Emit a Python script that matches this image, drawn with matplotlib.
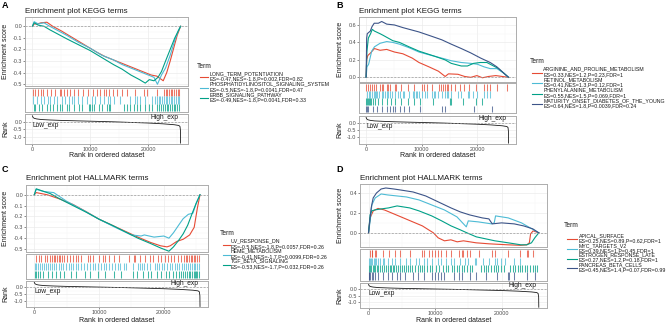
import matplotlib
matplotlib.use('Agg')
import matplotlib.pyplot as plt
from matplotlib.lines import Line2D
from matplotlib.ticker import MultipleLocator, FormatStrFormatter

plt.rcParams['font.family'] = ['Liberation Sans', 'DejaVu Sans']
plt.rcParams['axes.unicode_minus'] = False

W, H = 668, 328
NPG = ['#E64B35', '#4DBBD5', '#00A087', '#3C5488']
N_GENES = 25600

# ranked list metric (same dataset in every panel)
rank_x = [0, 100, 300, 700, 1500, 3000, 5000, 8000, 11000, 14000, 17000, 20000, 22500, 24500, 25300, 25500, 25580, 25600]
rank_y = [0.38, 0.28, 0.22, 0.18, 0.14, 0.11, 0.08, 0.05, 0.02, -0.01, -0.05, -0.09, -0.14, -0.20, -0.25, -0.32, -0.6, -1.4]
rank_ticks = [0.0, -0.5, -1.0]

# ---- A: KEGG, negative ----
a_terms = ['LONG_TERM_POTENTIATION', 'PHOSPHATIDYLINOSITOL_SIGNALING_SYSTEM', 'ERBB_SIGNALING_PATHWAY']
a_stats = ['ES=-0.47,NES=-1.8,P=0.002,FDR=0.82', 'ES=-0.5,NES=-1.8,P=0.0041,FDR=0.47', 'ES=-0.49,NES=-1.8,P=0.0041,FDR=0.33']
a_ltp_x = [0, 300, 800, 1500, 2500, 3500, 5000, 7000, 9000, 11000, 12500, 14000, 15500, 17000, 18500, 19500, 20500, 21500, 22600, 23200, 23800, 24400, 25000, 25600]
a_ltp_y = [0.0, 0.02, 0.02, 0.03, 0.035, 0.0, -0.04, -0.10, -0.16, -0.22, -0.26, -0.29, -0.32, -0.35, -0.38, -0.40, -0.42, -0.43, -0.47, -0.40, -0.30, -0.19, -0.08, 0.0]
a_pis_x = [0, 300, 1000, 2000, 3000, 4500, 6000, 8000, 10000, 12000, 14000, 15500, 17000, 18500, 20000, 21000, 21600, 22300, 23000, 23800, 24600, 25200, 25600]
a_pis_y = [0.0, 0.04, 0.02, 0.03, 0.0, -0.04, -0.08, -0.14, -0.19, -0.25, -0.29, -0.33, -0.36, -0.39, -0.42, -0.44, -0.50, -0.42, -0.36, -0.25, -0.12, -0.04, 0.0]
a_erbb_x = [0, 300, 1000, 2000, 3000, 4500, 6000, 8000, 10000, 12000, 14000, 15500, 17000, 18500, 19500, 20200, 21000, 21700, 22300, 23000, 23800, 24600, 25200, 25600]
a_erbb_y = [0.0, 0.03, 0.01, 0.0, -0.03, -0.07, -0.11, -0.16, -0.21, -0.27, -0.33, -0.37, -0.42, -0.46, -0.49, -0.46, -0.47, -0.44, -0.39, -0.30, -0.20, -0.10, -0.04, 0.0]
a_ltp_hits = [100, 500, 900, 1400, 1800, 2500, 3200, 3900, 4700, 5000, 5400, 6000, 6500, 7200, 7900, 8700, 9600, 10500, 11100, 11700, 12400, 12800, 13200, 14000, 14600, 15400, 16400, 17700, 19200, 19800, 21500, 22700, 23000, 23300, 23600, 23900, 24200, 24500, 24800, 25100, 25400]
a_pis_hits = [115, 800, 1500, 1960, 2650, 3100, 3680, 4260, 5120, 5690, 6270, 6840, 7130, 7820, 8570, 9430, 10290, 10870, 11730, 12300, 12990, 13460, 14030, 15180, 16900, 17770, 18060, 18630, 19500, 20640, 21200, 21500, 21800, 22100, 22400, 22700, 23000, 23300, 23600, 23900, 24200, 24500, 24800, 25100, 25400]
a_erbb_hits = [230, 520, 1090, 1670, 2530, 3100, 3570, 4260, 4720, 5120, 5980, 6270, 7130, 7990, 8570, 9720, 10010, 10290, 10580, 11440, 12020, 12880, 13170, 13460, 15760, 16330, 16910, 17480, 18060, 18630, 19500, 20070, 20640, 21500, 21900, 22200, 22600, 22900, 23200, 23500, 23800, 24100, 24400, 24700, 25000, 25300]

# ---- B: KEGG, positive ----
b_terms = ['ARGININE_AND_PROLINE_METABOLISM', 'RETINOL_METABOLISM', 'PHENYLALANINE_METABOLISM', 'MATURITY_ONSET_DIABETES_OF_THE_YOUNG']
b_stats = ['ES=0.33,NES=1.2,P=0.23,FDR=1', 'ES=0.41,NES=1.3,P=0.12,FDR=1', 'ES=0.55,NES=1.5,P=0.069,FDR=1', 'ES=0.64,NES=1.8,P=0.0039,FDR=0.24']
b_arg_x = [0, 100, 300, 800, 1500, 2500, 3700, 5100, 6600, 8300, 9500, 11300, 13000, 14200, 14800, 16500, 17700, 18800, 19900, 20900, 22000, 23300, 25600]
b_arg_y = [0.0, 0.20, 0.25, 0.28, 0.33, 0.31, 0.32, 0.29, 0.27, 0.22, 0.17, 0.12, 0.07, 0.01, 0.04, 0.035, 0.01, 0.0, 0.02, -0.005, 0.01, 0.02, 0.0]
b_ret_x = [0, 150, 450, 1000, 1500, 2500, 3700, 4800, 6000, 7700, 9500, 11800, 14200, 15300, 17100, 18800, 20000, 21200, 22300, 23500, 24700, 25600]
b_ret_y = [0.0, 0.12, 0.15, 0.30, 0.35, 0.39, 0.41, 0.40, 0.38, 0.34, 0.29, 0.25, 0.21, 0.19, 0.17, 0.16, 0.15, 0.12, 0.10, 0.10, 0.05, 0.0]
b_phe_x = [0, 150, 400, 800, 1100, 1500, 2500, 3100, 4800, 6000, 7700, 9500, 12400, 14200, 15300, 17100, 18200, 19300, 20500, 21700, 22300, 23800, 24700, 25600]
b_phe_y = [0.0, 0.30, 0.45, 0.50, 0.55, 0.53, 0.50, 0.48, 0.42, 0.40, 0.35, 0.30, 0.24, 0.20, 0.16, 0.13, 0.13, 0.16, 0.17, 0.17, 0.15, 0.10, 0.05, 0.0]
b_mod_x = [0, 100, 200, 750, 1050, 1450, 2200, 2800, 3700, 5100, 6600, 9500, 11800, 13600, 15300, 17100, 18800, 20600, 22300, 23500, 24700, 25600]
b_mod_y = [0.0, 0.45, 0.50, 0.53, 0.58, 0.62, 0.62, 0.64, 0.61, 0.60, 0.57, 0.52, 0.47, 0.43, 0.38, 0.33, 0.28, 0.22, 0.17, 0.12, 0.05, 0.0]
b_arg_hits = [60, 290, 640, 1050, 1340, 1810, 2510, 2800, 3090, 3670, 3960, 4260, 5130, 5420, 6300, 7460, 8630, 10090, 10380, 10960, 11830, 13120, 13470, 13880, 14170, 14460, 14750, 15330, 15920, 16790, 17660, 18540, 19710, 21160, 21750, 22330, 23490, 25240]
b_ret_hits = [175, 470, 760, 1050, 1340, 1520, 1810, 2040, 2390, 2800, 3090, 3380, 3670, 3960, 4370, 4720, 5130, 5710, 6010, 6590, 6880, 7750, 8340, 8630, 8920, 9210, 9500, 10090, 10670, 10960, 11830, 12130, 12420, 13000, 13580, 14170, 14460, 14750, 15330, 16500, 17080, 18250, 18540, 19120, 20000, 21160, 21750, 22330]
b_phe_hits = [50, 180, 350, 530, 760, 940, 1230, 1640, 2220, 2800, 3680, 4500, 5130, 6300, 7460, 8630, 9620, 12100, 15040, 15300, 17370, 19710, 20870]
b_mod_hits = [0, 180, 350, 1230, 1920, 2800, 3680, 4260, 4840, 5130, 6010, 6880, 7750, 9620, 13580, 14170, 19420, 22620]

# ---- C: HALLMARK, negative ----
c_terms = ['UV_RESPONSE_DN', 'HEME_METABOLISM', 'TGF_BETA_SIGNALING']
c_stats = ['ES=-0.5,NES=-1.8,P=0.0057,FDR=0.26', 'ES=-0.41,NES=-1.7,P=0.0099,FDR=0.26', 'ES=-0.53,NES=-1.7,P=0.032,FDR=0.26']
c_uv_x = [0, 300, 2000, 4000, 6000, 8000, 10000, 12000, 14000, 16000, 18000, 19500, 20500, 21000, 22000, 23000, 24000, 24700, 25200, 25600]
c_uv_y = [0.0, 0.02, 0.0, -0.04, -0.09, -0.155, -0.225, -0.28, -0.335, -0.39, -0.44, -0.47, -0.48, -0.47, -0.43, -0.41, -0.37, -0.30, -0.12, 0.0]
c_heme_x = [0, 300, 1500, 3000, 5000, 7500, 10000, 12500, 15000, 16500, 17000, 18500, 20000, 20800, 21500, 22300, 23000, 23800, 24500, 25000, 25600]
c_heme_y = [0.0, 0.05, 0.03, 0.02, -0.06, -0.14, -0.225, -0.30, -0.37, -0.38, -0.37, -0.39, -0.38, -0.40, -0.35, -0.28, -0.22, -0.18, -0.17, -0.08, 0.0]
c_tgf_x = [0, 300, 1000, 2500, 4000, 6000, 8000, 10000, 12000, 14000, 16000, 18000, 19500, 20800, 21500, 22300, 23000, 23700, 24400, 25000, 25600]
c_tgf_y = [0.0, 0.055, 0.04, 0.01, -0.04, -0.10, -0.16, -0.225, -0.28, -0.34, -0.40, -0.45, -0.49, -0.52, -0.48, -0.42, -0.36, -0.28, -0.17, -0.08, 0.0]
c_uv_hits = [250, 750, 1100, 1600, 2000, 2400, 2750, 3000, 3270, 3520, 3770, 4020, 4280, 4530, 5030, 5530, 6040, 6440, 6790, 7290, 8300, 8650, 9050, 10060, 10560, 10970, 11570, 12320, 13080, 14590, 15340, 15590, 16350, 17100, 17860, 18360, 19110, 19620, 20120, 20620, 21130, 21630, 22130, 22640, 23140, 23390, 23640, 23890, 24140, 24400, 24650, 24900, 25150, 25400]
c_heme_hits = [100, 300, 600, 900, 1200, 1500, 1800, 2100, 2500, 2800, 3100, 3400, 3800, 4100, 4500, 4900, 5300, 5600, 6000, 6400, 6800, 7200, 7700, 8200, 8600, 9000, 9400, 9800, 10300, 10700, 11100, 11600, 12000, 12400, 12900, 13300, 13800, 14100, 15300, 16000, 16300, 16700, 17000, 17400, 17800, 18600, 19000, 19300, 19700, 20100, 20500, 20900, 21300, 21700, 22100, 22400, 22800, 23100, 23400, 23700, 24000, 24300, 24600, 24900, 25200, 25500]
c_tgf_hits = [100, 300, 500, 900, 1300, 2100, 2700, 3300, 4000, 4600, 5600, 6400, 7800, 8600, 9900, 11000, 12300, 13400, 15200, 15900, 16800, 17500, 18100, 18900, 19600, 20300, 20800, 21400, 21900, 22300, 22700, 23000, 23300, 23600, 23900, 24100, 24300, 24600, 24800, 25000, 25200, 25400]

# ---- D: HALLMARK, positive ----
d_terms = ['APICAL_SURFACE', 'MYC_TARGETS_V2', 'ESTROGEN_RESPONSE_LATE', 'PANCREAS_BETA_CELLS']
d_stats = ['ES=0.25,NES=0.89,P=0.62,FDR=1', 'ES=0.39,NES=1,P=0.45,FDR=1', 'ES=0.27,NES=1.2,P=0.18,FDR=1', 'ES=0.45,NES=1.4,P=0.07,FDR=0.99']
d_api_x = [0, 240, 710, 1430, 2380, 3810, 5240, 6660, 8090, 9040, 9760, 10470, 11420, 12380, 13330, 14280, 16180, 18090, 20940, 22850, 23800, 24180, 24370, 24750, 25600]
d_api_y = [0.0, 0.15, 0.22, 0.245, 0.23, 0.19, 0.15, 0.11, 0.07, 0.03, 0.0, -0.05, -0.08, -0.07, -0.09, -0.08, -0.10, -0.11, -0.12, -0.125, -0.12, -0.10, -0.01, 0.02, 0.0]
d_myc_x = [0, 250, 500, 1000, 1900, 2900, 4300, 5700, 7600, 9500, 11400, 13300, 14700, 15000, 16500, 18500, 18900, 19100, 21000, 23000, 25600]
d_myc_y = [0.0, 0.12, 0.28, 0.35, 0.39, 0.38, 0.37, 0.36, 0.33, 0.28, 0.23, 0.16, 0.06, 0.12, 0.11, 0.09, 0.10, 0.17, 0.15, 0.10, 0.0]
d_est_x = [0, 240, 480, 950, 1900, 3000, 4300, 6200, 7600, 9500, 11000, 12400, 13800, 14800, 16200, 17600, 19000, 21000, 22900, 23800, 24500, 25000, 25600]
d_est_y = [0.0, 0.18, 0.22, 0.23, 0.24, 0.25, 0.27, 0.25, 0.22, 0.17, 0.12, 0.07, 0.03, 0.0, -0.04, -0.06, -0.08, -0.10, -0.12, -0.12, -0.10, -0.05, 0.0]
d_pan_x = [0, 400, 700, 1200, 1900, 2600, 3800, 4800, 6700, 8600, 10500, 12400, 13800, 15200, 17100, 18100, 18600, 20000, 21900, 23300, 24700, 25600]
d_pan_y = [0.0, 0.25, 0.35, 0.40, 0.44, 0.45, 0.44, 0.43, 0.41, 0.37, 0.31, 0.25, 0.21, 0.18, 0.15, 0.14, 0.09, 0.10, 0.09, 0.07, 0.04, 0.0]
d_api_hits = [240, 480, 570, 950, 1190, 2140, 3090, 4050, 4760, 6190, 8090, 8330, 9040, 9520, 10000, 10470, 10950, 11660, 12380, 13570, 14040, 14280, 14760, 15230, 16660, 18560, 19040, 20940, 22850, 23800, 24040, 24750]
d_myc_hits = [95, 240, 380, 570, 760, 950, 1190, 1430, 1670, 2140, 2380, 2860, 3570, 4050, 4760, 5710, 6190, 7140, 7620, 8330, 8810, 9520, 10470, 10950, 11660, 12380, 12850, 13800, 14520, 14990, 15950, 16180, 17140, 18090, 19040, 19280, 19990, 20470, 21900, 22850]
d_est_hits = [50, 200, 400, 600, 800, 1000, 1300, 1500, 1800, 2100, 2400, 2600, 2900, 3200, 3400, 3700, 3900, 4200, 4500, 4800, 5100, 5400, 5600, 5900, 6300, 6600, 7000, 7400, 7700, 8100, 8400, 8800, 9200, 9600, 10100, 10600, 11200, 11600, 12000, 12500, 12900, 13300, 13600, 14000, 14400, 14800, 15200, 15500, 16900, 17300, 17600, 18000, 18400, 18800, 19100, 19500, 19900, 20300, 21300, 21700, 22000, 22400, 22800, 23100, 23500, 23900, 24300, 24700, 25100, 25400]
d_pan_hits = [0, 140, 290, 480, 710, 950, 1430, 2140, 2860, 3570, 4280, 4760, 5470, 6660, 7380, 8330, 9520, 10000, 10470, 10950, 11420, 12850, 13570, 14040, 15230, 16180, 17610, 19280, 20940, 21180, 21900, 23800, 24990]

fig = plt.figure(figsize=(W / 100, H / 100), dpi=100)


def fbox(l, t, r, b):
    return [l / W, 1 - b / H, (r - l) / W, (b - t) / H]


def ftext(x, y, s, **kw):
    fig.text(x / W, 1 - y / H, s, **kw)


def frame(ax):
    for sp in ax.spines.values():
        sp.set_color('#ADADAD')
        sp.set_linewidth(0.7)
    ax.set_xlim(-1280, N_GENES + 1280)
    ax.xaxis.set_major_locator(MultipleLocator(10000))
    ax.xaxis.set_minor_locator(MultipleLocator(5000))
    ax.grid(which='major', color='#EBEBEB', lw=0.5)
    ax.grid(which='minor', color='#F4F4F4', lw=0.3)
    ax.set_axisbelow(True)
    ax.tick_params(which='minor', length=0)
    ax.tick_params(which='major', length=1.2, width=0.4, color='#333333',
                   labelsize=3.9, labelcolor='#4D4D4D', pad=0.8)


def draw_panel(lay, letter, title, terms, stats, curves, hits):
    l, r = lay['x']
    # running enrichment score
    ax = fig.add_axes(fbox(l, lay['es'][0], r, lay['es'][1]))
    frame(ax)
    for i, (xs, ys) in enumerate(curves):
        ax.plot(xs, ys, color=NPG[i], lw=0.8)
    ax.axhline(0, color='#9A9A9A', lw=0.5, ls=(0, (3, 2)))
    ax.set_ylim(*lay['ylim'])
    ax.yaxis.set_major_locator(MultipleLocator(lay['step']))
    ax.yaxis.set_minor_locator(MultipleLocator(lay['step'] / 2))
    ax.yaxis.set_major_formatter(FormatStrFormatter('%.1f'))
    ax.tick_params(axis='x', which='both', length=0, labelbottom=False)

    # hit positions
    ax2 = fig.add_axes(fbox(l, lay['tk'][0], r, lay['tk'][1]))
    frame(ax2)
    n = len(hits)
    for i, h in enumerate(hits):
        ax2.vlines(h, n - 1 - i + 0.02, n - i - 0.02, color=NPG[i], lw=0.75, alpha=0.75)
    ax2.set_ylim(-0.12, n + 0.12)
    ax2.set_yticks([])
    ax2.tick_params(axis='x', which='both', length=0, labelbottom=False)

    # ranked list
    ax3 = fig.add_axes(fbox(l, lay['rk'][0], r, lay['rk'][1]))
    frame(ax3)
    ax3.plot(rank_x, rank_y, color='#1A1A1A', lw=0.6)
    ax3.axhline(0, color='#9A9A9A', lw=0.5, ls=(0, (3, 2)))
    ax3.set_ylim(-1.46, 0.5)
    ax3.set_yticks(rank_ticks)
    ax3.yaxis.set_minor_locator(MultipleLocator(0.25))
    ax3.yaxis.set_major_formatter(FormatStrFormatter('%.1f'))
    ax3.set_xticks([0, 10000, 20000], ['0', '10000', '20000'])
    ax3.text(0, -0.03, 'Low_exp', ha='left', va='top', fontsize=4.8, color='#1A1A1A')
    ax3.text(N_GENES - 300, 0.05, 'High_exp', ha='right', va='bottom', fontsize=4.8, color='#1A1A1A')

    # texts
    ox = lay['ylab_x']
    ftext(ox, (lay['es'][0] + lay['es'][1]) / 2, 'Enrichment score', rotation=90,
          ha='center', va='center', fontsize=5.0, color='#1A1A1A')
    ftext(ox, (lay['rk'][0] + lay['rk'][1]) / 2, 'Rank', rotation=90,
          ha='center', va='center', fontsize=5.0, color='#1A1A1A')
    ftext((l + r) / 2, lay['xlab_y'], 'Rank in ordered dataset', ha='center', va='center',
          fontsize=5.0, color='#1A1A1A')
    ftext(l, lay['title_y'], title, ha='left', va='center', fontsize=5.8, color='#1A1A1A')
    ftext(lay['letter'][0], lay['letter'][1], letter, ha='left', va='center',
          fontsize=6.5, fontweight='bold')

    # legend
    tx, ty = lay['leg_title']
    ftext(tx, ty, 'Term', ha='left', va='center', fontsize=4.8, color='#1A1A1A')
    k0, k1 = lay['leg_key']
    ls = lay['leg_ls']
    for i, (term, st) in enumerate(zip(terms, stats)):
        y1 = lay['leg_y0'] + 2 * i * ls
        ftext(lay['leg_tx'], y1, term, ha='left', va='center', fontsize=3.75, color='#1A1A1A')
        ftext(lay['leg_tx'], y1 + ls, st, ha='left', va='center', fontsize=3.75, color='#1A1A1A')
        yk = 1 - (y1 + ls * 0.5 + 0.8) / H
        fig.add_artist(Line2D([k0 / W, k1 / W], [yk, yk], color=NPG[i], lw=0.8))


lay_a = dict(x=(25, 188), es=(17, 86), tk=(88, 112), rk=(114, 144), ylim=(-0.515, 0.08), step=0.1,
             ylab_x=6, xlab_y=155.5, title_y=11.7, letter=(2, 5),
             leg_title=(197, 66.7), leg_key=(199.5, 208.3), leg_tx=210, leg_y0=74, leg_ls=5.1)
lay_b = dict(x=(359, 515.7), es=(17.3, 81.7), tk=(83.3, 113.3), rk=(115.7, 144), ylim=(-0.05, 0.688), step=0.2,
             ylab_x=340, xlab_y=155.5, title_y=11.7, letter=(336, 5),
             leg_title=(530, 61.2), leg_key=(532, 541.5), leg_tx=543.3, leg_y0=69.3, leg_ls=5.2)
lay_c = dict(x=(26, 208.3), es=(185, 252.3), tk=(254, 279), rk=(280.7, 307.3), ylim=(-0.53, 0.09), step=0.1,
             ylab_x=6, xlab_y=320, title_y=178, letter=(2, 170),
             leg_title=(220, 233.3), leg_key=(222.7, 230), leg_tx=231, leg_y0=241.3, leg_ls=5.0)
lay_d = dict(x=(360, 547.3), es=(184, 247.3), tk=(249, 280.7), rk=(283, 308), ylim=(-0.145, 0.49), step=0.2,
             ylab_x=340, xlab_y=320, title_y=178, letter=(336, 170),
             leg_title=(564, 225.7), leg_key=(567.3, 576.7), leg_tx=579, leg_y0=235.7, leg_ls=4.9)

draw_panel(lay_a, 'A', 'Enrichment plot KEGG terms', a_terms, a_stats,
           [(a_ltp_x, a_ltp_y), (a_pis_x, a_pis_y), (a_erbb_x, a_erbb_y)],
           [a_ltp_hits, a_pis_hits, a_erbb_hits])
draw_panel(lay_b, 'B', 'Enrichment plot KEGG terms', b_terms, b_stats,
           [(b_arg_x, b_arg_y), (b_ret_x, b_ret_y), (b_phe_x, b_phe_y), (b_mod_x, b_mod_y)],
           [b_arg_hits, b_ret_hits, b_phe_hits, b_mod_hits])
draw_panel(lay_c, 'C', 'Enrichment plot HALLMARK terms', c_terms, c_stats,
           [(c_uv_x, c_uv_y), (c_heme_x, c_heme_y), (c_tgf_x, c_tgf_y)],
           [c_uv_hits, c_heme_hits, c_tgf_hits])
draw_panel(lay_d, 'D', 'Enrichment plot HALLMARK terms', d_terms, d_stats,
           [(d_api_x, d_api_y), (d_myc_x, d_myc_y), (d_est_x, d_est_y), (d_pan_x, d_pan_y)],
           [d_api_hits, d_myc_hits, d_est_hits, d_pan_hits])

fig.savefig('out.png', dpi=100)
